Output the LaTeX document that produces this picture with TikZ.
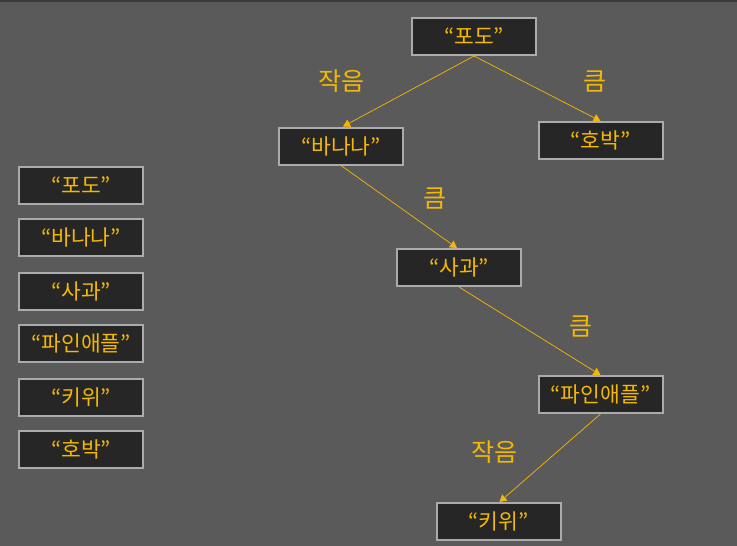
\documentclass[tikz,border=0pt]{standalone}
\usepackage{fontspec}
\setmainfont{Noto Sans CJK KR}
\usetikzlibrary{arrows.meta}
\definecolor{bg}{HTML}{5A5A5A}
\definecolor{boxfill}{HTML}{262626}
\definecolor{boxline}{HTML}{ABABAB}
\definecolor{gold}{HTML}{F5B800}
\definecolor{topbar}{HTML}{3A3A3A}
\tikzset{
  fruit/.style={draw=boxline, line width=2pt, fill=boxfill, minimum width=124pt, minimum height=37pt, inner sep=0pt, text=gold, font=\fontsize{21.5}{24}\selectfont},
  conn/.style={draw=gold, line width=0.7pt, -{Triangle[length=7pt,width=8pt]}},
  lbl/.style={text=gold, font=\fontsize{25}{28}\selectfont, inner sep=0pt}
}
\begin{document}
\begin{tikzpicture}[x=1pt,y=-1pt]
\fill[bg] (0,0) rectangle (737,546);
\fill[topbar] (0,0) rectangle (737,1.5);
\useasboundingbox (0,0) rectangle (737,546);
% tree
\node[fruit] (podo) at (474,36.5) {“포도”};
\node[fruit] (banana) at (341,146) {“바나나”};
\node[fruit] (hobak) at (600.5,140.5) {“호박”};
\node[fruit] (sagwa) at (459,267.5) {“사과”};
\node[fruit] (pine) at (600.5,394.5) {“파인애플”};
\node[fruit] (kiwi) at (498.5,521.5) {“키위”};
% list
\node[fruit] (l1) at (81,185.5) {“포도”};
\node[fruit] (l2) at (81,237.5) {“바나나”};
\node[fruit] (l3) at (81,291.5) {“사과”};
\node[fruit] (l4) at (81,343.5) {“파인애플”};
\node[fruit] (l5) at (81,397.5) {“키위”};
\node[fruit] (l6) at (81,449.5) {“호박”};
% edges
\draw[conn] (podo.south) -- ([xshift=2pt]banana.north);
\draw[conn] (podo.south) -- (hobak.north);
\draw[conn] (banana.south) -- ([xshift=-2pt]sagwa.north);
\draw[conn] (sagwa.south) -- (pine.north);
\draw[conn] (pine.south) -- ([xshift=1pt]kiwi.north);
% labels
\node[lbl] (e1) at (341,81) {작음};
\node[lbl] (e2) at (595,81) {큼};
\node[lbl] (e3) at (435,198) {큼};
\node[lbl] (e4) at (581,326) {큼};
\node[lbl] (e5) at (494,452) {작음};
\end{tikzpicture}
\end{document}
